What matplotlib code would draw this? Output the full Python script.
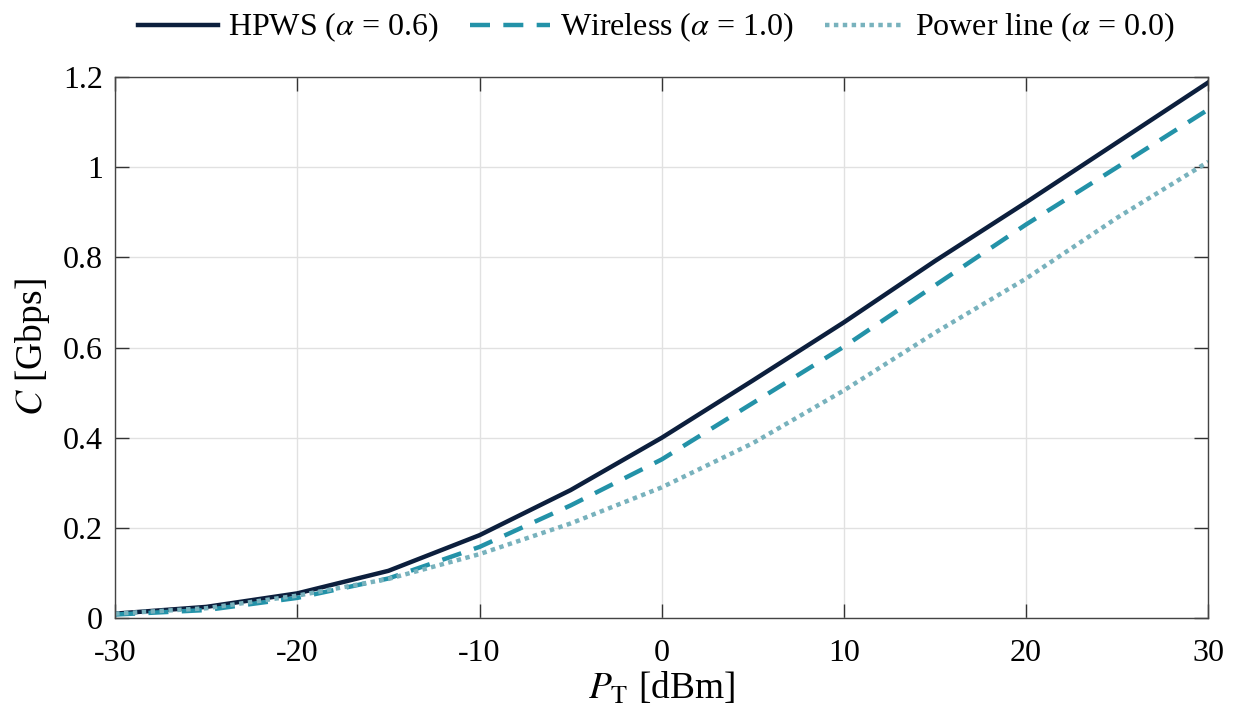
import numpy as np
import matplotlib as mpl
import matplotlib.pyplot as plt

mpl.rcParams['font.family'] = ['Liberation Serif', 'DejaVu Serif']
mpl.rcParams['mathtext.fontset'] = 'stix'
mpl.rcParams['axes.unicode_minus'] = False

# data
p_t = [-30, -25, -20, -15, -10, -5, 0, 5, 10, 15, 20, 25, 30]
hpws = [0.010, 0.025, 0.055, 0.105, 0.184, 0.284, 0.400, 0.527, 0.656, 0.792, 0.922, 1.055, 1.188]
wireless = [0.008, 0.018, 0.045, 0.088, 0.158, 0.250, 0.352, 0.477, 0.602, 0.738, 0.873, 1.000, 1.128]
power_line = [0.010, 0.022, 0.050, 0.087, 0.142, 0.210, 0.290, 0.388, 0.505, 0.633, 0.753, 0.888, 1.012]

fig = plt.figure(figsize=(12.38, 7.13), dpi=100)
ax = fig.add_axes([0.093, 0.133, 0.883, 0.759])

ax.plot(p_t, hpws, '-', color='#0c1f3d', lw=3.2, label=r'HPWS ($\alpha$ = 0.6)')
ax.plot(p_t, wireless, '--', color='#2392a8', lw=3.2, dashes=(4.5, 3), label=r'Wireless ($\alpha$ = 1.0)')
ax.plot(p_t, power_line, ':', color='#78b2bd', lw=3.2, dashes=(1, 1), label=r'Power line ($\alpha$ = 0.0)')

ax.set_xlim(-30, 30)
ax.set_ylim(0, 1.2)
ax.set_xticks(np.arange(-30, 31, 10))
ax.set_xticklabels(['-30', '-20', '-10', '0', '10', '20', '30'])
ax.set_yticks(np.arange(0, 1.21, 0.2))
ax.set_yticklabels(['0', '0.2', '0.4', '0.6', '0.8', '1', '1.2'])
ax.tick_params(direction='in', length=10, width=1, labelsize=23, top=True, right=True,
               color='#333333', pad=9)
ax.tick_params(axis='x', pad=15)
ax.grid(True, color='#e1e1e1', lw=1)
ax.set_axisbelow(True)
for s in ax.spines.values():
    s.set_color('#444444')
    s.set_linewidth(1)

ax.set_xlabel(r'$P_\mathrm{T}$ [dBm]', fontsize=27, labelpad=2)
ax.set_ylabel(r'$C$ [Gbps]', fontsize=27, labelpad=8)

fig.legend(loc='upper center', bbox_to_anchor=(0.53, 1.025), ncol=3, frameon=False,
           fontsize=23, handlelength=2.5, columnspacing=1.0, handletextpad=0.3)

plt.savefig('out.png', dpi=100)
